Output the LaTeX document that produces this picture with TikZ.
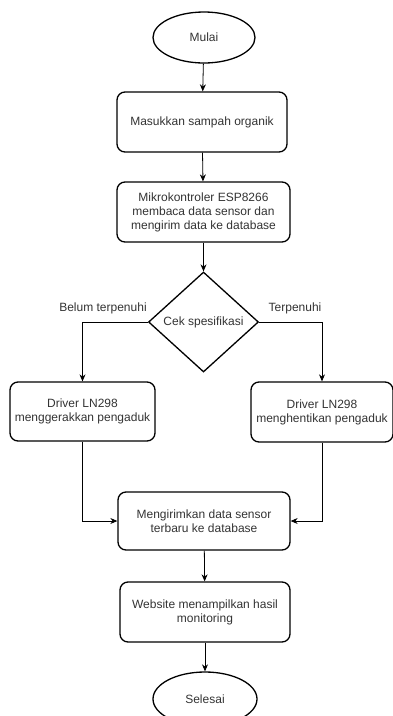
\documentclass[tikz,border=0pt]{standalone}
\usepackage{fontspec}
\setmainfont{Liberation Sans}
\usetikzlibrary{shapes.geometric,arrows.meta}
\definecolor{txt}{HTML}{333333}
\begin{document}
\begin{tikzpicture}[x=1pt,y=-1pt,
  every node/.style={font=\fontsize{12}{14}\selectfont, text=txt, align=center},
  proc/.style={draw=black, line width=1.3pt, rounded corners=8pt, inner sep=0pt},
  term/.style={draw=black, line width=1.3pt, ellipse, inner sep=0pt},
  decis/.style={draw=black, line width=1.3pt, diamond, aspect=1.1, inner sep=0pt, minimum width=110pt, minimum height=100pt},
  arr/.style={draw=black, line width=0.8pt, -{Stealth[length=7pt,width=6pt]}},
  lbl/.style={font=\fontsize{12}{14}\selectfont, text=txt}]
\useasboundingbox (0,0) rectangle (393,716);
\node[term, minimum width=102pt, minimum height=51pt] (start) at (204,37.5) {Mulai};
\node[proc, minimum width=170pt, minimum height=60pt] (b1) at (202,122) {Masukkan sampah organik};
\node[proc, minimum width=173pt, minimum height=60pt] (b2) at (203.5,212) {Mikrokontroler ESP8266\\membaca data sensor dan\\mengirim data ke database};
\node[decis] (dec) at (203.5,322) {Cek spesifikasi};
\node[proc, minimum width=145pt, minimum height=59pt] (lbox) at (82.5,411.5) {Driver LN298\\menggerakkan pengaduk};
\node[proc, minimum width=142pt, minimum height=60pt] (rbox) at (322,412) {Driver LN298\\menghentikan pengaduk};
\node[proc, minimum width=172pt, minimum height=58pt] (b3) at (204,521) {Mengirimkan data sensor\\terbaru ke database};
\node[proc, minimum width=170pt, minimum height=60pt] (b4) at (205,612) {Website menampilkan hasil\\monitoring};
\node[term, minimum width=104pt, minimum height=54pt] (stop) at (205,699) {Selesai};
\node[lbl] (ly) at (103,308) {Belum terpenuhi};
\node[lbl] (ry) at (295,308) {Terpenuhi};
\draw[arr] (start) -- (b1);
\draw[arr] (b1) -- (b2);
\draw[arr] (b2) -- (dec);
\draw[arr] (dec.west) -| (lbox.north);
\draw[arr] (dec.east) -| (rbox.north);
\draw[arr] (lbox.south) |- (b3.west);
\draw[arr] (rbox.south) |- (b3.east);
\draw[arr] (b3) -- (b4);
\draw[arr] (b4) -- (stop);
\end{tikzpicture}
\end{document}
